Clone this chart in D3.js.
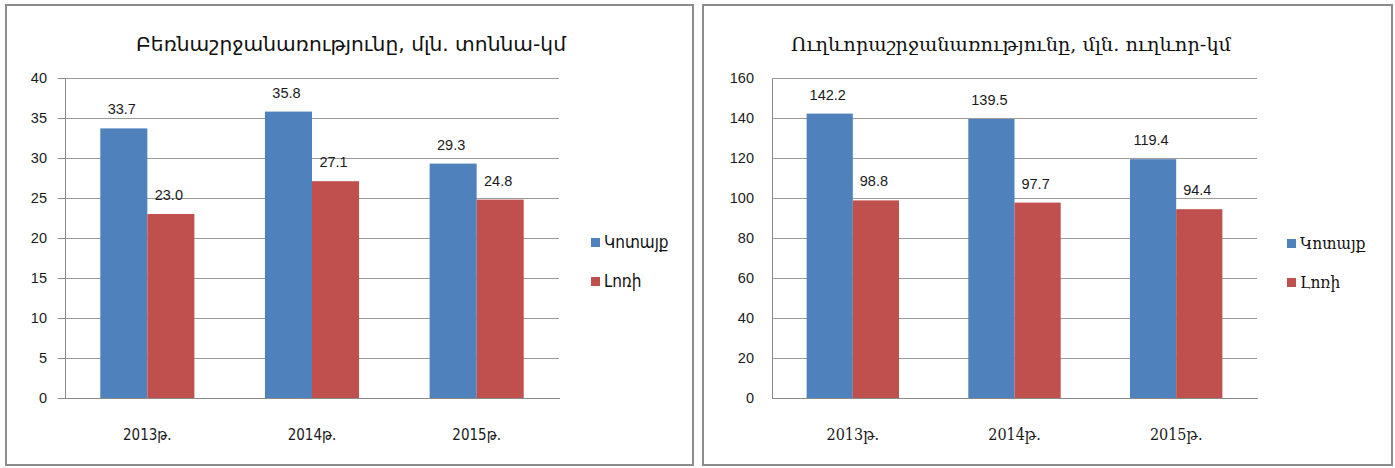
<!DOCTYPE html>
<html>
<head>
<meta charset="utf-8">
<script src="https://cdn.jsdelivr.net/npm/d3@7"></script>
<style>
  html, body { margin: 0; padding: 0; background: #fff; }
  svg { display: block; }
</style>
</head>
<body>
<svg id="chart" width="1395" height="468"></svg>
<script>
// ---- data ----
const categories = ["2013թ.", "2014թ.", "2015թ."];
const seriesNames = ["Կոտայք", "Լոռի"];
const freightKotayk = [33.7, 35.8, 29.3];
const freightLori = [23.0, 27.1, 24.8];
const passengerKotayk = [142.2, 139.5, 119.4];
const passengerLori = [98.8, 97.7, 94.4];
const freightTicks = [0, 5, 10, 15, 20, 25, 30, 35, 40];
const passengerTicks = [0, 20, 40, 60, 80, 100, 120, 140, 160];
const freightTitle = "Բեռնաշրջանառությունը, մլն. տոննա-կմ";
const passengerTitle = "Ուղևորաշրջանառությունը, մլն. ուղևոր-կմ";
const colors = ["#4F81BD", "#C0504D"];

const svg = d3.select("#chart");

function drawPanel(cfg) {
  const g = svg.append("g");
  // frame
  g.append("rect")
    .attr("x", cfg.frame[0]).attr("y", cfg.frame[1])
    .attr("width", cfg.frame[2]).attr("height", cfg.frame[3])
    .attr("fill", "#fff").attr("stroke", "#8c8c8c").attr("stroke-width", 2);

  const x0 = d3.scaleBand().domain(categories)
    .range([cfg.plot.x0, cfg.plot.x1]).paddingInner(0.4286).paddingOuter(0.2143);
  const x1 = d3.scaleBand().domain(seriesNames).range([0, x0.bandwidth()]);
  const y = d3.scaleLinear().domain([0, cfg.ticks[cfg.ticks.length - 1]])
    .range([cfg.plot.yBottom, cfg.plot.yTop]);
  const plotW = cfg.plot.x1 - cfg.plot.x0;

  // gridlines
  const grid = g.append("g").attr("transform", `translate(${cfg.plot.x0},0)`)
    .call(d3.axisLeft(y).tickValues(cfg.ticks).tickSize(-plotW).tickFormat(""));
  grid.select(".domain").remove();
  grid.selectAll(".tick line").attr("stroke", "#9a9a9a").attr("shape-rendering", "crispEdges");

  // y axis
  const ya = g.append("g").attr("transform", `translate(${cfg.plot.x0},0)`)
    .call(d3.axisLeft(y).tickValues(cfg.ticks).tickSize(cfg.tickSize).tickPadding(cfg.tickPad)
      .tickFormat(d3.format("d")));
  ya.select(".domain").attr("stroke", "#8a8a8a").attr("shape-rendering", "crispEdges");
  ya.selectAll(".tick line").attr("stroke", "#8a8a8a").attr("shape-rendering", "crispEdges");
  ya.selectAll(".tick text").attr("font-family", "'Liberation Sans', Arial, sans-serif")
    .attr("font-size", 14.5).attr("fill", "#1a1a1a");

  // bars
  const data = categories.map((c, i) => ({ cat: c, vals: cfg.series.map((s, j) => ({ name: seriesNames[j], v: s[i] })) }));
  const groups = g.selectAll("g.grp").data(data).enter().append("g")
    .attr("transform", d => `translate(${x0(d.cat)},0)`);
  groups.selectAll("rect").data(d => d.vals).enter().append("rect")
    .attr("x", d => x1(d.name)).attr("width", x1.bandwidth())
    .attr("y", d => y(d.v)).attr("height", d => y(0) - y(d.v))
    .attr("fill", (d, j) => colors[j]);
  groups.selectAll("text").data(d => d.vals).enter().append("text")
    .attr("x", d => x1(d.name) + x1.bandwidth() / 2 - 2)
    .attr("y", d => y(d.v) - 14)
    .attr("text-anchor", "middle")
    .attr("font-family", "'Liberation Sans', Arial, sans-serif")
    .attr("font-size", 14.5).attr("fill", "#1a1a1a")
    .text(d => d.v.toFixed(1));

  // x axis baseline
  const xa = g.append("g").attr("transform", `translate(0,${cfg.plot.yBottom})`)
    .call(d3.axisBottom(x0).tickSize(0).tickPadding(cfg.xLabelPad));
  xa.select(".domain").attr("stroke", "#8a8a8a").attr("shape-rendering", "crispEdges");
  xa.selectAll(".tick text").attr("font-family", cfg.font).attr("font-size", cfg.xFontSize)
    .attr("fill", "#1a1a1a");

  // title
  g.append("text").attr("x", cfg.title.x).attr("y", cfg.title.y)
    .attr("font-family", cfg.font).attr("font-size", cfg.title.size).attr("fill", "#111")
    .attr("textLength", cfg.title.len).attr("lengthAdjust", "spacingAndGlyphs")
    .text(cfg.title.text);

  // legend
  const lg = g.append("g");
  seriesNames.forEach((n, j) => {
    lg.append("rect").attr("x", cfg.legend.x).attr("y", cfg.legend.y[j] - 10)
      .attr("width", 9).attr("height", 9).attr("fill", colors[j]);
    lg.append("text").attr("x", cfg.legend.x + 13).attr("y", cfg.legend.y[j])
      .attr("font-family", cfg.font).attr("font-size", cfg.legend.size).attr("fill", "#111")
      .text(n);
  });
}

drawPanel({
  frame: [6, 5, 687, 460],
  plot: { x0: 65, x1: 559, yTop: 78, yBottom: 398 },
  ticks: freightTicks,
  tickSize: 7, tickPad: 11,
  series: [freightKotayk, freightLori],
  font: "'DejaVu Sans Condensed', 'DejaVu Sans', sans-serif",
  xFontSize: 15, xLabelPad: 31,
  title: { text: freightTitle, x: 136, y: 51, size: 19, len: 430 },
  legend: { x: 591, y: [248, 287], size: 17 }
});

drawPanel({
  frame: [703, 5, 689, 460],
  plot: { x0: 772, x1: 1257, yTop: 78, yBottom: 398 },
  ticks: passengerTicks,
  tickSize: 0, tickPad: 18,
  series: [passengerKotayk, passengerLori],
  font: "'DejaVu Serif Condensed', 'DejaVu Serif', serif",
  xFontSize: 16, xLabelPad: 31,
  title: { text: passengerTitle, x: 791, y: 51, size: 18, len: 440 },
  legend: { x: 1287, y: [249, 288], size: 17 }
});
</script>
</body>
</html>
